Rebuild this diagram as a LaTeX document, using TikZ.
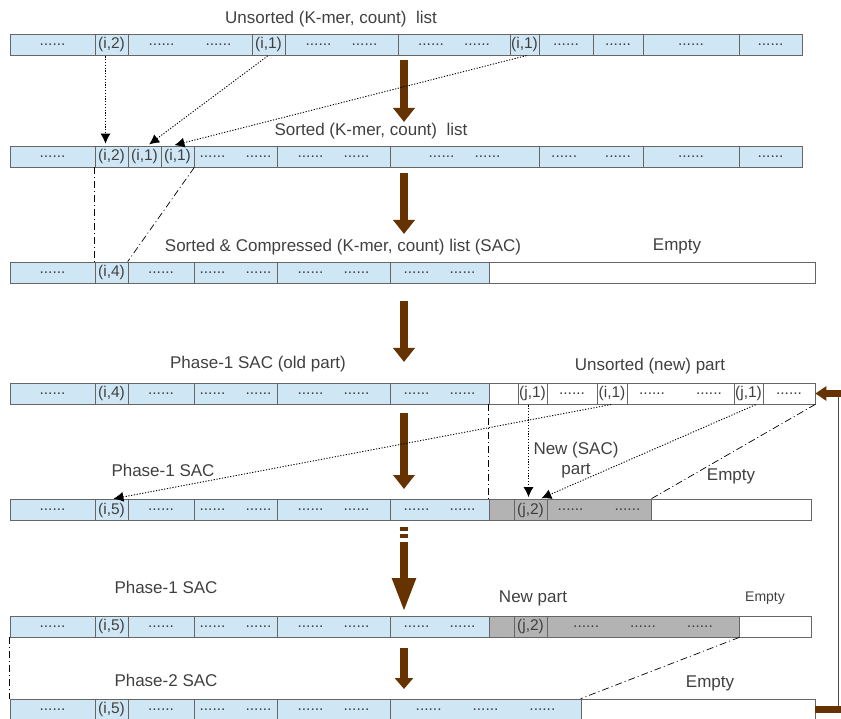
\documentclass[tikz,border=0pt]{standalone}
\usepackage{fontspec}
\setmainfont{Liberation Sans}
\usetikzlibrary{arrows.meta}
\definecolor{sacblue}{HTML}{CFE6F4}
\definecolor{newgray}{HTML}{B3B3B3}
\definecolor{flowbrown}{HTML}{663300}
\definecolor{labelgray}{HTML}{404040}
\newcommand{\titlefont}{\fontsize{17}{20}\selectfont}
\newcommand{\cellfont}{\fontsize{15.5}{18}\selectfont}
\newcommand{\smallfont}{\fontsize{14}{16}\selectfont}
\newcommand{\dotrun}{......}
\newcommand{\dottwo}[1][1.3em]{\dotrun\hspace{#1}\dotrun}
\newcommand{\dotthree}{\dotrun\hspace{2em}\dotrun\hspace{2em}\dotrun}
\begin{document}
\begin{tikzpicture}
        [x=1pt,y=-1pt,
         cell/.style={draw=black!60,line width=0.7pt,minimum height=21pt,inner sep=0pt,font=\cellfont,text=labelgray},
         sac/.style={cell,fill=sacblue},
         newp/.style={cell,fill=newgray},
         free/.style={cell,fill=white},
         lbl/.style={font=\titlefont,text=labelgray,inner sep=0pt},
         move/.style={dash pattern=on 1.2pt off 1.6pt,line width=0.9pt,-{Latex[length=10pt,width=10pt]},shorten >=2pt,shorten <=1pt},
         bound/.style={line width=0.7pt,dash pattern=on 7pt off 3pt on 1pt off 3pt},
         flow/.style={flowbrown,line width=8pt,-{Triangle[length=14pt,width=21pt]}}]
        \useasboundingbox (0,0) rectangle (841,719);

        % unsorted and sorted lists
        \foreach \xa/\xb/\st/\txt [count=\i] in {10/95/sac/\dotrun, 95/128/sac/{(i,2)}, 128/252/sac/{\dottwo[2em]},
            252/285/sac/{(i,1)}, 285/398/sac/\dottwo, 398/510/sac/\dottwo, 510/539/sac/{(i,1)},
            539/593/sac/\dotrun, 593/643/sac/\dotrun, 643/739/sac/\dotrun, 739/802/sac/\dotrun}
          \node[\st,minimum width={(\xb-\xa)*1pt}] (a\i) at ({(\xa+\xb)/2},44.5) {\txt};
        \foreach \xa/\xb/\st/\txt [count=\i] in {10/95/sac/\dotrun, 95/128/sac/{(i,2)}, 128/161/sac/{(i,1)},
            161/194/sac/{(i,1)}, 194/277/sac/\dottwo, 277/390/sac/\dottwo, 390/539/sac/\dottwo,
            539/643/sac/{\dottwo[1.8em]}, 643/739/sac/\dotrun, 739/802/sac/\dotrun}
          \node[\st,minimum width={(\xb-\xa)*1pt}] (b\i) at ({(\xa+\xb)/2},156.5) {\txt};

        % compressed list
        \foreach \xa/\xb/\st/\txt [count=\i] in {10/95/sac/\dotrun, 95/128/sac/{(i,4)}, 128/194/sac/\dotrun,
            194/277/sac/\dottwo, 277/390/sac/\dottwo, 390/489/sac/\dottwo, 489/815/free/{}}
          \node[\st,minimum width={(\xb-\xa)*1pt}] (c\i) at ({(\xa+\xb)/2},272.5) {\txt};

        % phase-1, old and new parts
        \foreach \xa/\xb/\st/\txt [count=\i] in {10/95/sac/\dotrun, 95/128/sac/{(i,4)}, 128/194/sac/\dotrun,
            194/277/sac/\dottwo, 277/390/sac/\dottwo, 390/489/sac/\dottwo, 489/518/free/{},
            518/547/free/{(j,1)}, 547/597/free/\dotrun, 597/627/free/{(i,1)}, 627/734/free/{\dottwo[2em]},
            734/763/free/{(j,1)}, 763/815/free/\dotrun}
          \node[\st,minimum width={(\xb-\xa)*1pt}] (d\i) at ({(\xa+\xb)/2},393.5) {\txt};
        \foreach \xa/\xb/\st/\txt [count=\i] in {10/95/sac/\dotrun, 95/128/sac/{(i,5)}, 128/194/sac/\dotrun,
            194/277/sac/\dottwo, 277/390/sac/\dottwo, 390/489/sac/\dottwo, 489/514/newp/{},
            514/547/newp/{(j,2)}, 547/651/newp/{\dottwo[2em]}, 651/811/free/{}}
          \node[\st,minimum width={(\xb-\xa)*1pt}] (e\i) at ({(\xa+\xb)/2},510) {\txt};
        \foreach \xa/\xb/\st/\txt [count=\i] in {10/95/sac/\dotrun, 95/128/sac/{(i,5)}, 128/194/sac/\dotrun,
            194/277/sac/\dottwo, 277/390/sac/\dottwo, 390/489/sac/\dottwo, 489/514/newp/{},
            514/547/newp/{(j,2)}, 547/739/newp/\dotthree, 739/811/free/{}}
          \node[\st,minimum width={(\xb-\xa)*1pt}] (f\i) at ({(\xa+\xb)/2},626.5) {\txt};

        % phase-2
        \foreach \xa/\xb/\st/\txt [count=\i] in {10/95/sac/\dotrun, 95/128/sac/{(i,5)}, 128/194/sac/\dotrun,
            194/277/sac/\dottwo, 277/390/sac/\dottwo, 390/581/sac/\dotthree, 581/815/free/{}}
          \node[\st,minimum width={(\xb-\xa)*1pt}] (g\i) at ({(\xa+\xb)/2},709.5) {\txt};

        % labels
        \node[lbl] (Tun) at (331,19) {Unsorted (K-mer, count)~ list};
        \node[lbl] (Tso) at (371,131) {Sorted (K-mer, count)~ list};
        \node[lbl] (Tsac) at (343,247) {Sorted \& Compressed (K-mer, count) list (SAC)};
        \node[lbl] (E1) at (677,246) {Empty};
        \node[lbl] (Told) at (258,364) {Phase-1 SAC (old part)};
        \node[lbl] (Tnew) at (650,366) {Unsorted (new) part};
        \node[lbl] (P1a) at (163,470) {Phase-1 SAC};
        \node[lbl,align=center] (Nsac) at (576,460) {New (SAC)\\part};
        \node[lbl] (E2) at (731,476) {Empty};
        \node[lbl] (P1b) at (166,587) {Phase-1 SAC};
        \node[lbl] (Npart) at (533,598) {New part};
        \node[lbl,font=\smallfont] (E3) at (765,598) {Empty};
        \node[lbl] (P2) at (166,680) {Phase-2 SAC};
        \node[lbl] (E4) at (710,683) {Empty};

        % step arrows
        \coordinate (s1) at (404,60);  \coordinate (t1) at (404,122);
        \coordinate (s2) at (404,173); \coordinate (t2) at (404,234);
        \coordinate (s3) at (404,301); \coordinate (t3) at (404,362);
        \coordinate (s4) at (404,413); \coordinate (t4) at (404,489);
        \coordinate (s5) at (404,542); \coordinate (t5) at (404,612);
        \coordinate (s6) at (404,648); \coordinate (t6) at (404,689);
        \draw[flow] (s1) -- (t1);
        \draw[flow] (s2) -- (t2);
        \draw[flow] (s3) -- (t3);
        \draw[flow] (s4) -- (t4);
        \fill[flowbrown] (400,527) rectangle (408,531);
        \fill[flowbrown] (400,534) rectangle (408,538);
        \draw[flow,-{Triangle[length=34pt,width=22pt]}] (s5) -- (t5);
        \draw[flow,-{Triangle[length=11pt,width=18pt]}] (s6) -- (t6);

        % loop back
        \coordinate (lp) at (838,550);
        \draw[black!70,line width=0.8pt] (g7.east -| lp) -- (d13.east -| lp);
        \draw[flowbrown,line width=7pt] (g7.east) -- ([xshift=3pt]g7.east -| lp);
        \draw[flowbrown,line width=7pt,-{Triangle[length=11pt,width=14pt]}] ([xshift=3pt]d13.east -| lp) -- (d13.east);

        % moved entries
        \draw[move] ([xshift=-6pt]a2.south) -- ([xshift=-6pt]b2.north);
        \draw[move] (a4.south) -- ([xshift=3pt]b3.north);
        \draw[move] ([xshift=3pt]a7.south) -- ([xshift=-5pt]b4.north);
        \draw[move] (d10.south) -- (e2.north);
        \draw[move] ([xshift=-4pt]d8.south) -- ([xshift=-4pt]d8.south |- e8.north);
        \draw[move] ([xshift=8pt]d12.south) -- ([xshift=9pt]e8.north);

        % bounds
        \draw[bound] (b2.south west) -- (c2.north west);
        \draw[bound] (b4.south east) -- (c3.north west);
        \draw[bound] (d7.south west) -- (e7.north west);
        \draw[bound] (d13.south east) -- (e10.north west);
        \draw[bound] (f1.south west) -- (g1.north west);
        \draw[bound] (f9.south east) -- (g7.north west);
      \end{tikzpicture}
\end{document}
